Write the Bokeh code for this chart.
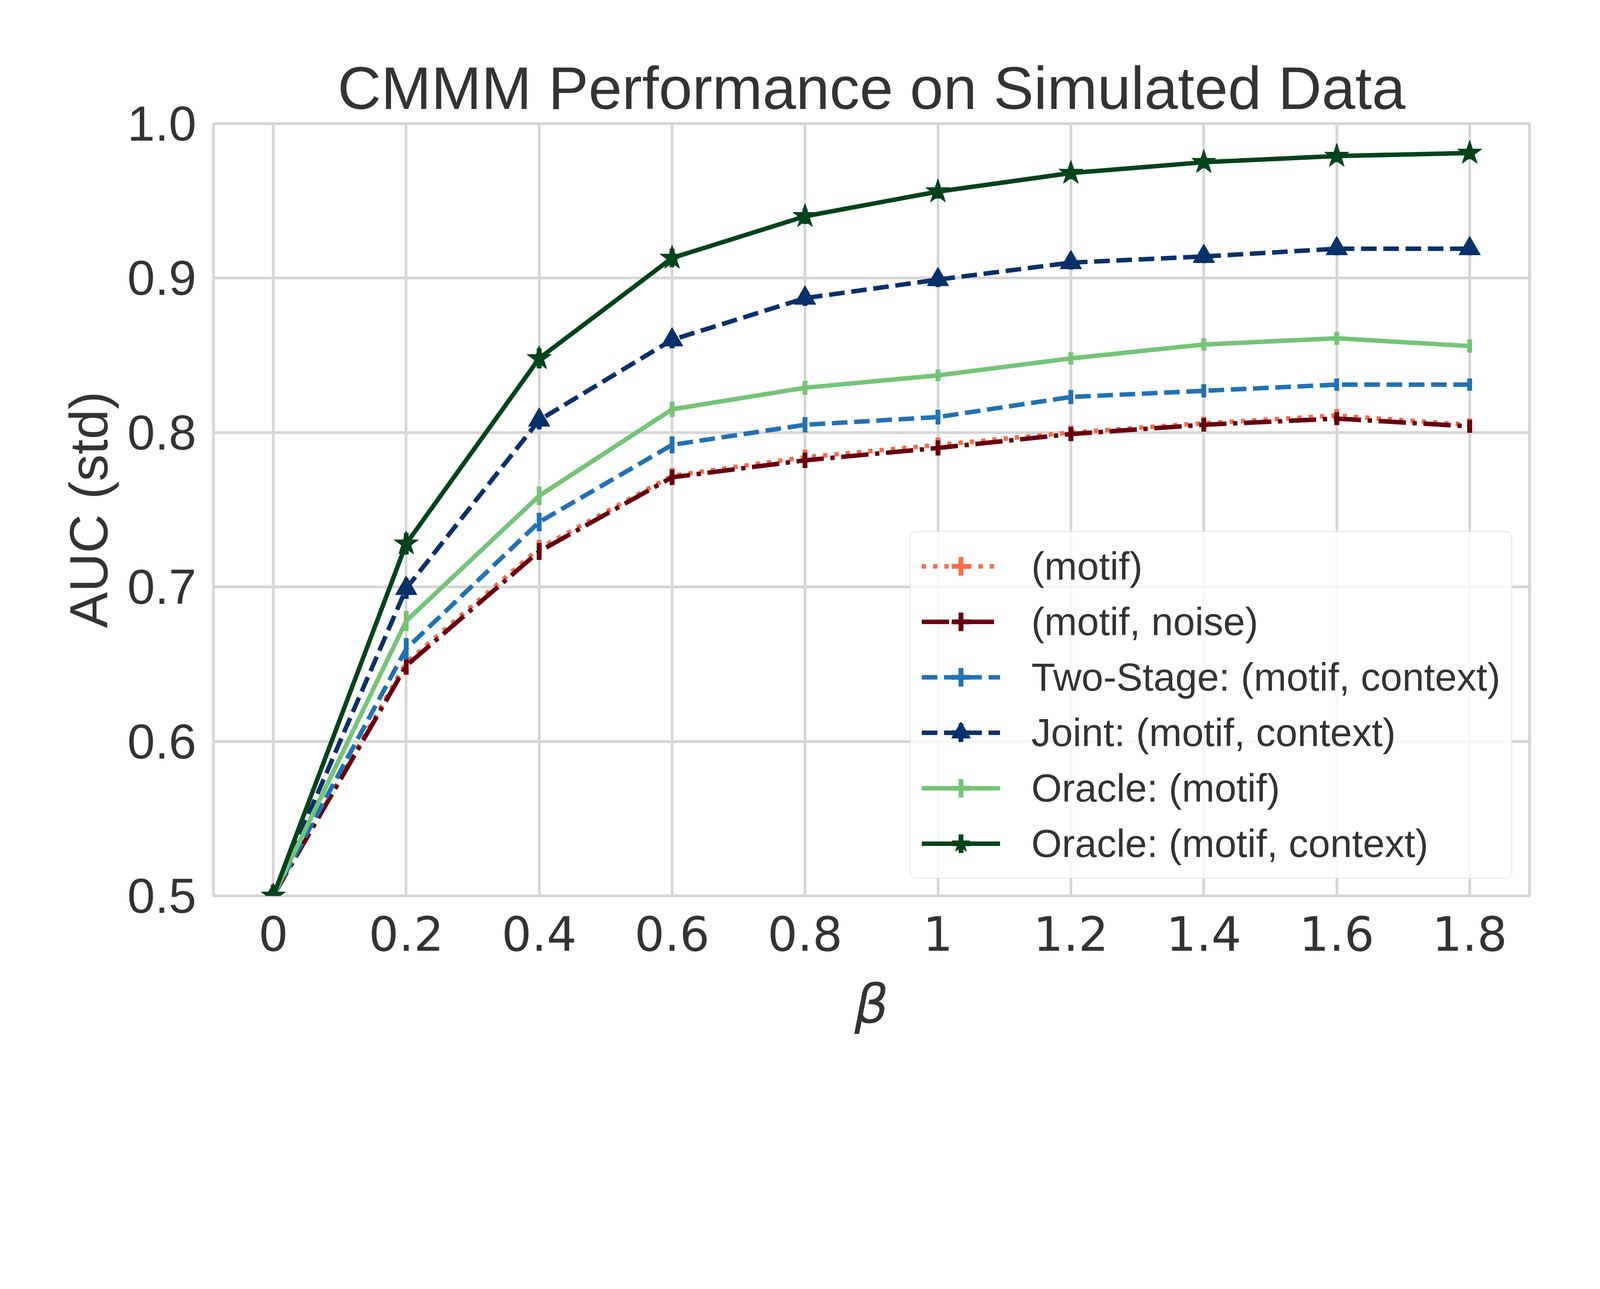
from bokeh.plotting import figure
from bokeh.models import Range1d, FixedTicker, Legend, LegendItem, ColumnDataSource
from bokeh.embed import file_html
from bokeh.resources import INLINE

# ---------------- data ----------------
beta = [0.0, 0.2, 0.4, 0.6, 0.8, 1.0, 1.2, 1.4, 1.6, 1.8]
x_tick_labels = ["0", "0.2", "0.4", "0.6", "0.8", "1", "1.2", "1.4", "1.6", "1.8"]
y_ticks = [0.5, 0.6, 0.7, 0.8, 0.9, 1.0]
y_tick_labels = ["0.5", "0.6", "0.7", "0.8", "0.9", "1.0"]

series_labels = [
    "(motif)",
    "(motif, noise)",
    "Two-Stage: (motif, context)",
    "Joint: (motif, context)",
    "Oracle: (motif)",
    "Oracle: (motif, context)",
]

auc_motif = [0.500, 0.651, 0.725, 0.772, 0.784, 0.792, 0.800, 0.806, 0.811, 0.805]
std_motif = [0.0070, 0.0060, 0.0055, 0.0050, 0.0050, 0.0048, 0.0045, 0.0043, 0.0042, 0.0042]

auc_motif_noise = [0.500, 0.649, 0.723, 0.771, 0.782, 0.790, 0.799, 0.805, 0.809, 0.804]
std_motif_noise = [0.0070, 0.0058, 0.0055, 0.0050, 0.0050, 0.0049, 0.0046, 0.0044, 0.0042, 0.0042]

auc_two_stage = [0.500, 0.660, 0.742, 0.792, 0.805, 0.810, 0.823, 0.827, 0.831, 0.831]
std_two_stage = [0.0070, 0.0069, 0.0060, 0.0055, 0.0050, 0.0048, 0.0046, 0.0043, 0.0040, 0.0040]

auc_joint = [0.500, 0.699, 0.808, 0.860, 0.887, 0.899, 0.910, 0.914, 0.919, 0.919]
std_joint = [0.0070, 0.0067, 0.0060, 0.0055, 0.0050, 0.0048, 0.0045, 0.0043, 0.0042, 0.0042]

auc_oracle_motif = [0.500, 0.678, 0.759, 0.815, 0.829, 0.837, 0.848, 0.857, 0.861, 0.856]
std_oracle_motif = [0.0070, 0.0065, 0.0060, 0.0050, 0.0045, 0.0038, 0.0040, 0.0042, 0.0042, 0.0043]

auc_oracle_mc = [0.500, 0.728, 0.848, 0.913, 0.940, 0.956, 0.968, 0.975, 0.979, 0.981]
std_oracle_mc = [0.0070, 0.0070, 0.0065, 0.0060, 0.0050, 0.0045, 0.0040, 0.0040, 0.0040, 0.0040]

colors = ["#fb6a4a", "#67000d", "#2171b5", "#08306b", "#74c476", "#00441b"]
markers = [None, None, None, "triangle", None, "star"]

# ---------------- styling (pixel sizes scaled to the rendered page) ----------------
S = 0.852


def px(v):
    return v * S


def fs(v):
    return f"{v * S:.1f}px"


def dash(*vals):
    return " ".join(str(max(1, int(round(v * S)))) for v in vals)


dashes = [dash(13, 21), dash(82, 20, 13, 20), dash(47, 20), dash(47, 20), "solid", "solid"]

TEXT = "#333333"
GRID = "#d6d6d6"
LW = px(13.5)
ELW = px(14.5)

W = round(4784 * S)
H = round(3284 * S)
left = round(641 * S)
top = round(371 * S)
fw = round(3954 * S)
fh = round(2321 * S)

# ---------------- figure ----------------
p = figure(width=W, height=H, output_backend="svg", toolbar_location=None,
           x_range=Range1d(-0.09, 1.89), y_range=Range1d(0.5, 1.0),
           min_border_left=left, min_border_right=W - left - fw,
           min_border_top=top, min_border_bottom=H - top - fh)
p.background_fill_color = "white"
p.border_fill_color = "white"
p.outline_line_color = GRID
p.outline_line_width = px(8)

p.title.text = "CMMM Performance on Simulated Data"
p.title.align = "center"
p.title.text_font = "Liberation Sans"
p.title.text_font_size = fs(181)
p.title.text_font_style = "normal"
p.title.text_color = TEXT
p.title.standoff = round(px(12))

p.xaxis.ticker = FixedTicker(ticks=beta)
p.xaxis.major_label_overrides = dict(zip(beta, x_tick_labels))
p.yaxis.ticker = FixedTicker(ticks=y_ticks)
p.yaxis.major_label_overrides = dict(zip(y_ticks, y_tick_labels))

for ax in (p.xaxis[0], p.yaxis[0]):
    ax.axis_line_color = None
    ax.major_tick_line_color = None
    ax.minor_tick_line_color = None
    ax.major_tick_out = 0
    ax.major_tick_in = 0
    ax.major_label_text_color = TEXT
    ax.axis_label_text_color = TEXT
    ax.axis_label_text_font_style = "normal"

p.xaxis.major_label_text_font = "DejaVu Sans"
p.xaxis.major_label_text_font_size = fs(142)
p.xaxis.major_label_standoff = round(px(60))
p.xaxis.axis_label = "β"
p.xaxis.axis_label_text_font = "DejaVu Sans"
p.xaxis.axis_label_text_font_style = "italic"
p.xaxis.axis_label_text_font_size = fs(162)
p.xaxis.axis_label_standoff = round(px(62))

p.yaxis.major_label_text_font = "Liberation Sans"
p.yaxis.major_label_text_font_size = fs(149)
p.yaxis.major_label_standoff = round(px(52))
p.yaxis.axis_label = "AUC (std)"
p.yaxis.axis_label_text_font = "Liberation Sans"
p.yaxis.axis_label_text_font_size = fs(162)
p.yaxis.axis_label_standoff = round(px(22))

p.grid.grid_line_color = GRID
p.grid.grid_line_width = px(8)

aucs = [auc_motif, auc_motif_noise, auc_two_stage, auc_joint, auc_oracle_motif, auc_oracle_mc]
stds = [std_motif, std_motif_noise, std_two_stage, std_joint, std_oracle_motif, std_oracle_mc]

items = []
for label, ys, sd, color, dsh, mk in zip(series_labels, aucs, stds, colors, dashes, markers):
    src = ColumnDataSource(dict(
        x=beta, y=ys,
        lo=[a - b for a, b in zip(ys, sd)],
        hi=[a + b for a, b in zip(ys, sd)],
    ))
    r_line = p.line("x", "y", source=src, line_color=color, line_width=LW, line_dash=dsh)
    p.segment(x0="x", y0="lo", x1="x", y1="hi", source=src, line_color=color, line_width=ELW)
    # zero-size marker: only shows the error-bar stroke in the legend
    r_bar = p.scatter("x", "y", source=src, marker="cross", size=0, line_color=color, line_width=ELW)
    rs = [r_line, r_bar]
    if mk is not None:
        r_m = p.scatter("x", "y", source=src, marker=mk, size=px(76 if mk == "star" else 64),
                        fill_color=color, line_color=color, line_width=px(2))
        rs.append(r_m)
    items.append(LegendItem(label=label, renderers=rs))

legend = Legend(items=items, location="bottom_right")
legend.margin = round(px(52))
legend.padding = round(px(33))
legend.spacing = round(px(27))
legend.glyph_width = round(px(236))
legend.glyph_height = round(px(140))
legend.label_standoff = round(px(94))
legend.label_text_font = "Liberation Sans"
legend.label_text_font_size = fs(118)
legend.label_text_color = TEXT
legend.background_fill_color = "white"
legend.background_fill_alpha = 0.8
legend.border_line_color = "#cccccc"
legend.border_line_width = px(3)
if "border_radius" in Legend.properties():
    legend.border_radius = round(px(18))
p.add_layout(legend)

open("out.html", "w").write(file_html(p, INLINE))
